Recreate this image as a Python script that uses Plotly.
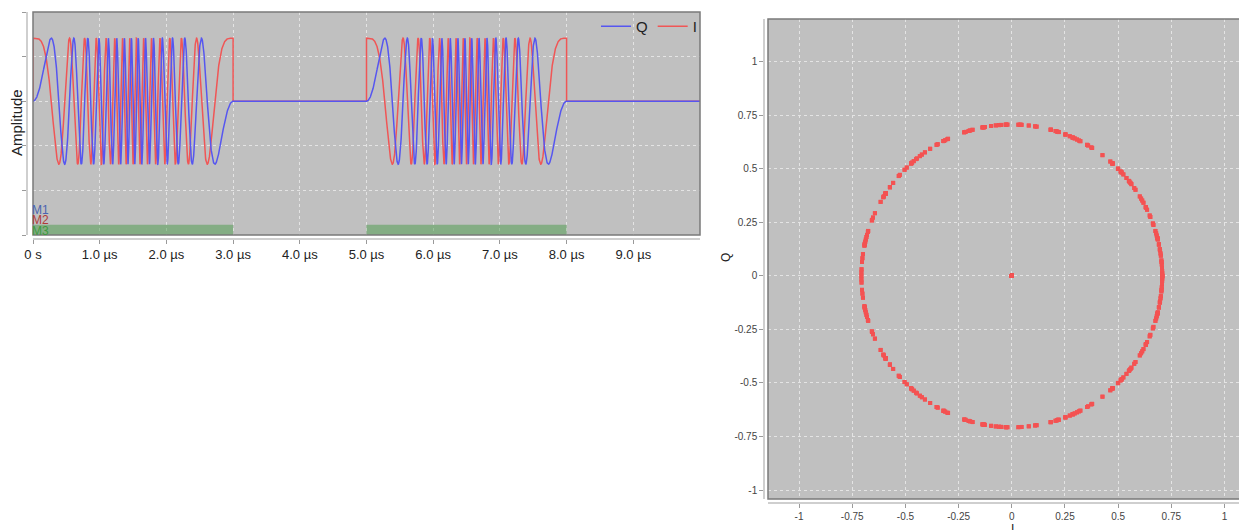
import numpy as np
import plotly.graph_objects as go

W, H = 1239, 530

# ---------------- data ----------------
time_range_us = [0.0, 10.0]
pulse_starts_us = [0.0, 5.0]
pulse_length_us = 3.0
amplitude = 0.707
chirp_cycles = 15          # cycles counted per pulse (slow-fast-slow)
line_step_us = 0.002
sample_rate_msps = 100

x_tick_vals = [0, 1, 2, 3, 4, 5, 6, 7, 8, 9]
x_tick_text = ["0 s", "1.0 µs", "2.0 µs", "3.0 µs", "4.0 µs",
               "5.0 µs", "6.0 µs", "7.0 µs", "8.0 µs", "9.0 µs"]
amp_tick_vals = [-1.5, -1.0, -0.5, 0.0, 0.5, 1.0]
amp_range = [-1.5, 1.0]

marker_names = ["M1", "M2", "M3"]
marker_colors = ["#4a63b0", "#b03a3a", "#3f9a3f"]
marker_label_y = [-1.22, -1.335, -1.45]
m3_span_starts = [0.0, 5.0]
m3_span_ends = [3.0, 8.0]
m3_band = [-1.5, -1.385]

iq_tick_vals = [-1, -0.75, -0.5, -0.25, 0, 0.25, 0.5, 0.75, 1]
iq_tick_text = ["-1", "-0.75", "-0.5", "-0.25", "0", "0.25", "0.5", "0.75", "1"]
i_range = [-1.146, 1.068]
q_range = [-1.042, 1.2]

color_i = "#f05656"
color_q = "#5656f0"

FONT = "Liberation Sans, Arial, sans-serif"


# ---------------- signal model ----------------
def chirp_phase(tau):
    half = pulse_length_us / 2
    k = chirp_cycles / half ** 2
    tau = np.asarray(tau, dtype=float)
    return np.where(tau <= half,
                    np.pi * k * tau ** 2,
                    2 * np.pi * chirp_cycles - np.pi * k * (pulse_length_us - tau) ** 2)


t_line, i_line, q_line = [], [], []
for t0 in pulse_starts_us:
    tau = np.arange(0, pulse_length_us + line_step_us / 2, line_step_us)
    ph = chirp_phase(tau)
    t_line += [t0] + list(t0 + tau) + [t0 + pulse_length_us]
    i_line += [0.0] + list(amplitude * np.cos(ph)) + [0.0]
    q_line += [0.0] + list(amplitude * np.sin(ph)) + [0.0]
t_line.append(time_range_us[1])
i_line.append(0.0)
q_line.append(0.0)

ts = np.arange(time_range_us[0], time_range_us[1], 1.0 / sample_rate_msps)
i_s = np.zeros_like(ts)
q_s = np.zeros_like(ts)
for t0 in pulse_starts_us:
    m = (ts >= t0) & (ts < t0 + pulse_length_us)
    ph = chirp_phase(ts[m] - t0)
    i_s[m] = amplitude * np.cos(ph)
    q_s[m] = amplitude * np.sin(ph)

# ---------------- figure ----------------
fig = go.Figure()
fig.add_trace(go.Scatter(x=t_line, y=i_line, mode="lines", name="I",
                         line=dict(color=color_i, width=1.5), xaxis="x", yaxis="y"))
fig.add_trace(go.Scatter(x=t_line, y=q_line, mode="lines", name="Q",
                         line=dict(color=color_q, width=1.5), xaxis="x", yaxis="y"))
fig.add_trace(go.Scatter(x=i_s, y=q_s, mode="markers", showlegend=False,
                         marker=dict(color="#f45252", size=4, symbol="square"),
                         xaxis="x2", yaxis="y2"))


def px(x):
    return x / W


def py(y):
    return 1 - y / H


grid = dict(showgrid=True, gridcolor="#e4e4e4", griddash="dot", gridwidth=1,
            zeroline=False, showline=True, linecolor="#cfcfcf", linewidth=1.5,
            ticks="outside", ticklen=4, tickcolor="#9a9a9a", automargin=False)
tickfont_l = dict(family=FONT, size=13, color="#222")
tickfont_r = dict(family=FONT, size=10, color="#444")

fig.update_layout(
    width=W, height=H,
    margin=dict(l=0, r=0, t=0, b=0, autoexpand=False),
    paper_bgcolor="white",
    plot_bgcolor="#c0c0c0",
    xaxis=dict(domain=[px(33), px(700)], range=time_range_us, anchor="free",
               position=py(239), tickvals=x_tick_vals, ticktext=x_tick_text,
               tickfont=tickfont_l, **grid),
    yaxis=dict(domain=[py(235), py(12)], range=amp_range, anchor="free",
               position=px(27), tickvals=amp_tick_vals, showticklabels=False,
               **grid),
    xaxis2=dict(domain=[px(768), 1.0], range=i_range, anchor="free",
                position=py(503), tickvals=iq_tick_vals, ticktext=iq_tick_text,
                tickfont=tickfont_r, **grid),
    yaxis2=dict(domain=[py(499), py(19)], range=q_range, anchor="free",
                position=px(764), tickvals=iq_tick_vals, ticktext=iq_tick_text,
                tickfont=tickfont_r, **grid),
    legend=dict(orientation="h", x=px(702), xanchor="right", y=py(10), yanchor="top",
                traceorder="reversed", bgcolor="rgba(0,0,0,0)", itemwidth=30,
                font=dict(family=FONT, size=15, color="#222")),
    showlegend=True,
)

# axis titles
fig.add_annotation(x=px(16), y=py(123), xref="paper", yref="paper", text="Amplitude",
                   textangle=-90, showarrow=False, xanchor="center", yanchor="middle",
                   font=dict(family=FONT, size=15, color="#222"))
fig.add_annotation(x=px(726), y=py(258), xref="paper", yref="paper", text="Q",
                   textangle=-90, showarrow=False, xanchor="center", yanchor="middle",
                   font=dict(family=FONT, size=12, color="#222"))
fig.add_annotation(x=px(1012), y=py(520), xref="paper", yref="paper", text="I",
                   showarrow=False, xanchor="center", yanchor="top",
                   font=dict(family=FONT, size=12, color="#222"))

# M3 bands
for s, e in zip(m3_span_starts, m3_span_ends):
    fig.add_shape(type="rect", xref="x", yref="y", x0=s, x1=e, y0=m3_band[0], y1=m3_band[1],
                  fillcolor="rgba(60,150,60,0.45)", line=dict(width=0), layer="above")

# marker labels
for name, col, yv in zip(marker_names, marker_colors, marker_label_y):
    fig.add_annotation(x=0, y=yv, xref="x", yref="y", text=name, showarrow=False,
                       xanchor="left", yanchor="middle", xshift=-3,
                       font=dict(family=FONT, size=12, color=col))

# plot-area borders
fig.add_shape(type="rect", xref="x domain", yref="y domain", x0=0, x1=1, y0=0, y1=1,
              line=dict(color="#7a7a7a", width=1.5), fillcolor="rgba(0,0,0,0)")
fig.add_shape(type="rect", xref="x2 domain", yref="y2 domain", x0=0, x1=1.01, y0=0, y1=1,
              line=dict(color="#7a7a7a", width=1.5), fillcolor="rgba(0,0,0,0)")

fig.write_html("out.html", config={"displayModeBar": False},
               post_script="document.body.style.margin='0';document.body.style.overflow='hidden';")
